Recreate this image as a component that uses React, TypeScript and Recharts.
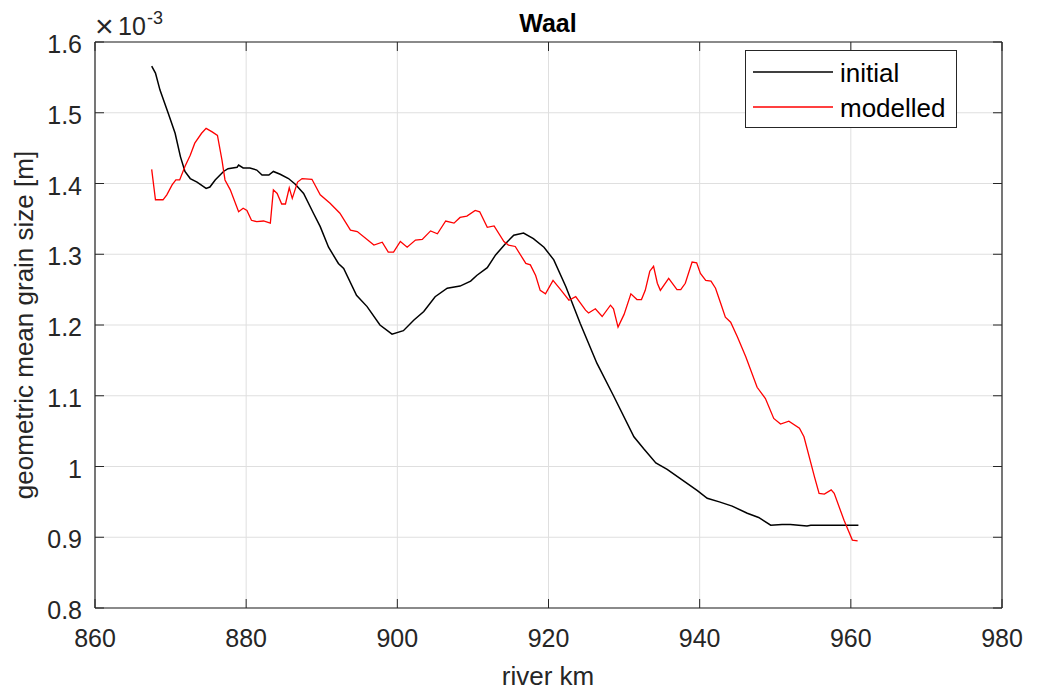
import React from "react";
import { LineChart, Line, XAxis, YAxis, CartesianGrid } from "recharts";

const initialKm = [867.5, 868.0, 868.6, 869.7, 870.6, 871.3, 871.9, 872.6, 873.5, 874.7, 875.2, 875.9, 877.0, 877.6, 878.8, 879.0, 879.6, 880.5, 881.4, 882.1, 883.0, 883.6, 884.5, 885.6, 886.5, 887.6, 888.9, 889.8, 890.9, 892.2, 892.9, 894.6, 896.0, 897.7, 899.3, 900.8, 902.2, 903.5, 905.0, 906.6, 908.3, 909.7, 910.5, 911.9, 913.0, 914.3, 915.4, 916.7, 918.0, 919.4, 920.7, 922.3, 924.2, 926.4, 928.6, 931.3, 932.6, 934.2, 935.7, 937.3, 939.7, 941.0, 942.6, 944.3, 946.3, 947.8, 949.4, 950.9, 952.0, 954.2, 954.7, 961.0];
const initialVal = [1.566, 1.556, 1.532, 1.499, 1.471, 1.438, 1.417, 1.407, 1.402, 1.393, 1.395, 1.405, 1.417, 1.421, 1.423, 1.426, 1.422, 1.422, 1.419, 1.412, 1.412, 1.417, 1.413, 1.407, 1.399, 1.386, 1.358, 1.339, 1.310, 1.287, 1.280, 1.242, 1.226, 1.200, 1.187, 1.192, 1.207, 1.219, 1.240, 1.252, 1.255, 1.262, 1.270, 1.281, 1.299, 1.315, 1.327, 1.330, 1.322, 1.310, 1.292, 1.254, 1.202, 1.146, 1.100, 1.042, 1.025, 1.005, 0.996, 0.984, 0.966, 0.955, 0.950, 0.944, 0.934, 0.928, 0.917, 0.918, 0.918, 0.916, 0.917, 0.917];

const modelledKm = [867.5, 868.0, 869.0, 869.5, 870.2, 870.7, 871.2, 871.9, 872.6, 873.2, 874.1, 874.7, 875.5, 876.2, 876.8, 877.2, 877.9, 879.0, 879.6, 880.1, 880.7, 881.4, 882.3, 883.2, 883.6, 884.1, 884.7, 885.2, 885.7, 886.1, 886.8, 887.4, 888.7, 889.8, 891.1, 892.4, 893.8, 894.7, 896.9, 898.0, 898.8, 899.5, 900.4, 901.3, 902.4, 903.3, 904.4, 905.3, 906.4, 907.5, 908.3, 909.2, 910.3, 910.9, 911.9, 912.8, 914.1, 914.7, 915.6, 917.0, 917.6, 918.3, 918.9, 919.6, 920.6, 921.6, 922.7, 923.6, 924.9, 925.3, 926.2, 927.1, 928.2, 928.6, 929.2, 930.0, 930.9, 931.7, 932.3, 932.8, 933.4, 933.9, 934.4, 934.8, 935.9, 937.0, 937.5, 938.1, 939.0, 939.6, 940.1, 940.8, 941.5, 942.1, 942.8, 943.4, 944.1, 945.0, 946.1, 947.6, 948.7, 949.8, 950.7, 951.8, 953.2, 953.8, 955.2, 955.8, 956.5, 957.4, 957.8, 959.1, 960.2, 960.9];
const modelledVal = [1.420, 1.377, 1.377, 1.384, 1.398, 1.405, 1.405, 1.424, 1.440, 1.457, 1.471, 1.478, 1.473, 1.468, 1.433, 1.405, 1.391, 1.360, 1.365, 1.362, 1.348, 1.346, 1.347, 1.344, 1.391, 1.386, 1.371, 1.371, 1.394, 1.379, 1.402, 1.407, 1.406, 1.384, 1.372, 1.358, 1.334, 1.332, 1.313, 1.317, 1.303, 1.303, 1.318, 1.310, 1.320, 1.321, 1.333, 1.329, 1.347, 1.344, 1.352, 1.354, 1.362, 1.360, 1.338, 1.340, 1.318, 1.313, 1.311, 1.287, 1.285, 1.270, 1.249, 1.244, 1.263, 1.250, 1.235, 1.240, 1.221, 1.217, 1.223, 1.212, 1.228, 1.223, 1.197, 1.215, 1.244, 1.236, 1.236, 1.249, 1.276, 1.283, 1.259, 1.249, 1.266, 1.250, 1.250, 1.259, 1.289, 1.288, 1.273, 1.263, 1.262, 1.252, 1.230, 1.211, 1.204, 1.183, 1.155, 1.112, 1.096, 1.068, 1.060, 1.064, 1.054, 1.042, 0.985, 0.962, 0.961, 0.967, 0.962, 0.924, 0.896, 0.895];

const xTicks = [860, 880, 900, 920, 940, 960, 980];
const yTicks = [0.8, 0.9, 1.0, 1.1, 1.2, 1.3, 1.4, 1.5, 1.6];
const seriesNames = ["initial", "modelled"];
const seriesColors = ["#000000", "#ff0000"];
const titleText = "Waal";
const xLabel = "river km";
const yLabel = "geometric mean grain size [m]";

const initialData = initialKm.map((km, i) => ({ km, v: initialVal[i] }));
const modelledData = modelledKm.map((km, i) => ({ km, v: modelledVal[i] }));

const FONT = "'Liberation Sans', Arial, Helvetica, sans-serif";
const AX = "#262626";
const TICK_LEN = 9;

const fmtY = (v: number) => {
  const r = Math.round(v * 10) / 10;
  return Number.isInteger(r) ? String(r) : r.toFixed(1);
};

const BottomTick = (p: any) => (
  <g>
    <line x1={p.x} x2={p.x} y1={p.y} y2={p.y - TICK_LEN} stroke={AX} strokeWidth={1} />
    <text x={p.x} y={p.y + 39} textAnchor="middle" fontSize={25} fill={AX} fontFamily={FONT}>
      {p.payload.value}
    </text>
  </g>
);
const TopTick = (p: any) => (
  <line x1={p.x} x2={p.x} y1={p.y} y2={p.y + TICK_LEN} stroke={AX} strokeWidth={1} />
);
const LeftTick = (p: any) => (
  <g>
    <line x1={p.x} x2={p.x + TICK_LEN} y1={p.y} y2={p.y} stroke={AX} strokeWidth={1} />
    <text x={p.x - 13} y={p.y + 11} textAnchor="end" fontSize={25} fill={AX} fontFamily={FONT}>
      {fmtY(p.payload.value)}
    </text>
  </g>
);
const RightTick = (p: any) => (
  <line x1={p.x} x2={p.x - TICK_LEN} y1={p.y} y2={p.y} stroke={AX} strokeWidth={1} />
);

export default function App() {
  return (
    <div style={{ position: "absolute", left: 0, top: 0, width: 1038, height: 693, background: "#fff", fontFamily: FONT }}>
      <LineChart width={1038} height={693} margin={{ top: 0, right: 0, bottom: 0, left: 0 }}>
        <CartesianGrid xAxisId="b" yAxisId="l" stroke="#dfdfdf" strokeWidth={1} />
        <XAxis
          xAxisId="b"
          type="number"
          dataKey="km"
          domain={[860, 980]}
          ticks={xTicks}
          interval={0}
          allowDataOverflow
          height={85}
          tickLine={false}
          tickSize={0}
          tickMargin={0}
          axisLine={{ stroke: AX, strokeWidth: 1.2 }}
          tick={(p: any) => <BottomTick {...p} />}
        />
        <XAxis
          xAxisId="t"
          orientation="top"
          type="number"
          dataKey="km"
          domain={[860, 980]}
          ticks={xTicks}
          interval={0}
          allowDataOverflow
          height={42}
          tickLine={false}
          tickSize={0}
          tickMargin={0}
          axisLine={{ stroke: AX, strokeWidth: 1.2 }}
          tick={(p: any) => <TopTick {...p} />}
        />
        <YAxis
          yAxisId="l"
          type="number"
          domain={[0.8, 1.6]}
          ticks={yTicks}
          interval={0}
          allowDataOverflow
          width={95}
          tickLine={false}
          tickSize={0}
          tickMargin={0}
          axisLine={{ stroke: AX, strokeWidth: 1.2 }}
          tick={(p: any) => <LeftTick {...p} />}
        />
        <YAxis
          yAxisId="r"
          orientation="right"
          type="number"
          domain={[0.8, 1.6]}
          ticks={yTicks}
          interval={0}
          allowDataOverflow
          width={36}
          tickLine={false}
          tickSize={0}
          tickMargin={0}
          axisLine={{ stroke: AX, strokeWidth: 1.2 }}
          tick={(p: any) => <RightTick {...p} />}
        />
        <Line
          xAxisId="b"
          yAxisId="l"
          data={initialData}
          dataKey="v"
          name={seriesNames[0]}
          type="linear"
          stroke={seriesColors[0]}
          strokeWidth={1.5}
          dot={false}
          isAnimationActive={false}
        />
        <Line
          xAxisId="b"
          yAxisId="l"
          data={modelledData}
          dataKey="v"
          name={seriesNames[1]}
          type="linear"
          stroke={seriesColors[1]}
          strokeWidth={1.3}
          dot={false}
          isAnimationActive={false}
        />
      </LineChart>
      <svg
        width={1038}
        height={693}
        style={{ position: "absolute", left: 0, top: 0, pointerEvents: "none" }}
        fontFamily={FONT}
      >
        <text x={548} y={32} textAnchor="middle" fontSize={25} fontWeight="bold" fill="#000">
          {titleText}
        </text>
        <text x={95} y={37} fontSize={32} fill={AX}>×</text>
        <text x={118} y={35} fontSize={25} fill={AX}>10</text>
        <text x={147} y={24} fontSize={18} fill={AX}>-3</text>
        <text x={548} y={685} textAnchor="middle" fontSize={26} fill={AX}>
          {xLabel}
        </text>
        <text
          x={0}
          y={0}
          transform="translate(33,325) rotate(-90)"
          textAnchor="middle"
          fontSize={26}
          fill={AX}
        >
          {yLabel}
        </text>
        <rect x={745.5} y={50.5} width={211} height={77} fill="#fff" stroke={AX} strokeWidth={1} />
        {seriesNames.map((n, i) => (
          <g key={n}>
            <line x1={753} x2={833} y1={72 + i * 35} y2={72 + i * 35} stroke={seriesColors[i]} strokeWidth={1.3} />
            <text x={840} y={82 + i * 35} fontSize={26} fill="#000">
              {n}
            </text>
          </g>
        ))}
      </svg>
    </div>
  );
}
